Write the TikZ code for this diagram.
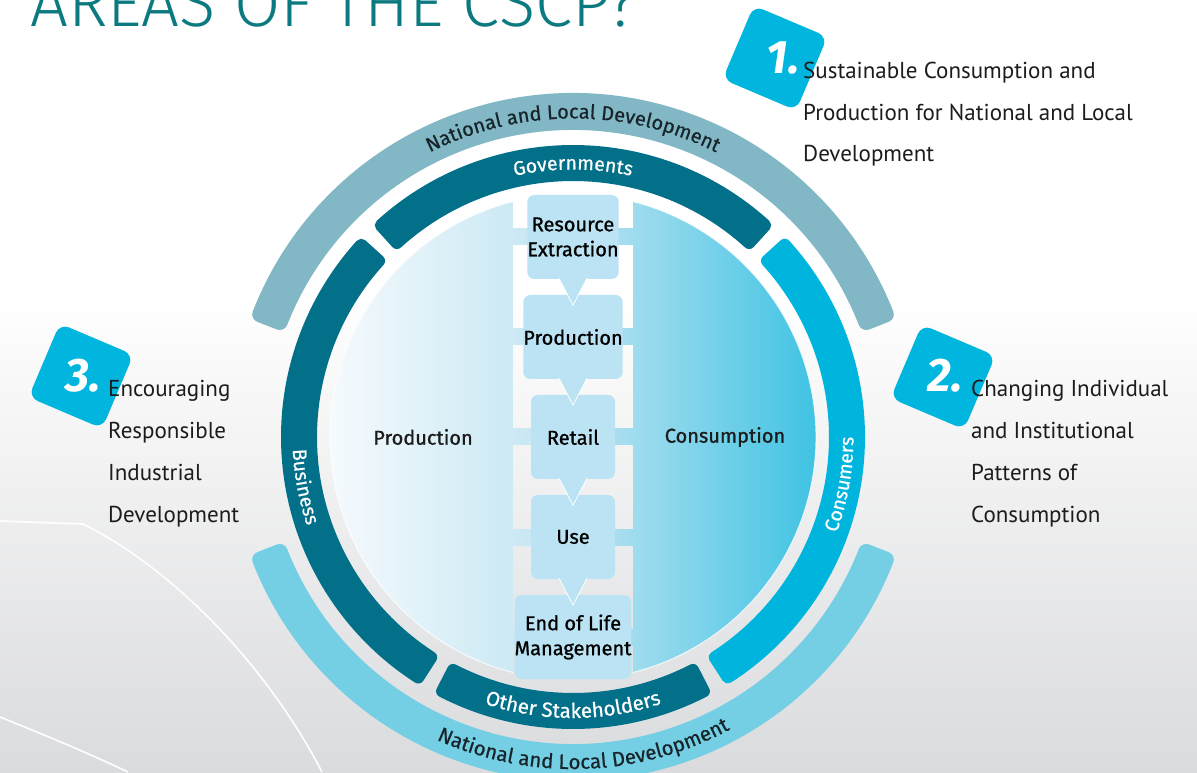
\documentclass[tikz,border=0pt]{standalone}
\usepackage{fontspec}
\setmainfont{PT Sans}
\newfontfamily\labfont{Fira Sans}[UprightFont={* Light}]
\newfontfamily\ringfont{Fira Sans}[FakeBold=0.6]
\newfontfamily\boxfont{Fira Sans}[FakeBold=1]
\newfontfamily\numfont{Fira Sans}
\usetikzlibrary{decorations.text}
\definecolor{ringdark}{HTML}{03708A}
\definecolor{ringcyan}{HTML}{00B5DD}
\definecolor{outtop}{HTML}{82B8C5}
\definecolor{outbot}{HTML}{74CFE4}
\definecolor{badgec}{HTML}{00B6DE}
\definecolor{titlec}{HTML}{0B7A80}
\definecolor{dkA}{HTML}{F5FAFD}
\definecolor{dkB}{HTML}{BFE4F2}
\definecolor{dkC}{HTML}{40C3E3}
\definecolor{boxc}{HTML}{BCE3F3}
\definecolor{bgb}{HTML}{DADBDD}
\definecolor{txtc}{HTML}{1C1C1C}
\definecolor{ringtxt}{HTML}{17252B}

\newcommand\ringseg[6]{% color, a1, a2, Rin, Rout, corner
  \pgfmathsetmacro\rsA{#4+#6}%
  \pgfmathsetmacro\rsB{#5-#6}%
  \pgfmathsetmacro\rsD{#6/((#4+#5)/2)*180/pi}%
  \pgfmathsetmacro\rsS{#2+\rsD}%
  \pgfmathsetmacro\rsE{#3-\rsD}%
  \filldraw[fill=#1,draw=#1,line width=2*#6 pt,line join=round]
    (\rsS:\rsA pt) arc[start angle=\rsS,end angle=\rsE,radius=\rsA pt]
    -- (\rsE:\rsB pt) arc[start angle=\rsE,end angle=\rsS,radius=\rsB pt] -- cycle;}
\newcommand\diskpiece[1]{\begin{scope}\clip #1;
  \shade[left color=dkA,right color=dkC,middle color=dkB] (-243,-243) rectangle (243,243);
  \end{scope}}

\tikzset{
  bodytxt/.style={anchor=base west, inner sep=0pt, text=txtc, font=\fontsize{23}{27}\selectfont},
  stepbox/.style={fill=boxc, rounded corners=7pt, minimum width=84pt, minimum height=84pt,
     inner sep=0pt, align=center, text=black, font=\boxfont\fontsize{20}{25}\selectfont},
  badge/.style={fill=badgec, rounded corners=10pt, minimum width=80pt, minimum height=80pt, rotate=-23, inner sep=0pt},
  badgenum/.style={text=white, font=\numfont\bfseries\itshape\fontsize{47}{47}\selectfont, inner sep=0pt},
  pointer/.style={fill=boxc, draw=white, line width=0.8pt},
  halftxt/.style={text=txtc, font=\boxfont\fontsize{20}{24}\selectfont, inner sep=0pt}
}

\begin{document}
\begin{tikzpicture}[x=1pt,y=1pt]
\clip (0,0) rectangle (1197,772);
\fill[white] (0,0) rectangle (1197,772);
\shade[top color=white,bottom color=bgb] (0,0) rectangle (1197,480);
% background white curves
\draw[white, line width=1.6pt] (0,251) -- (83,248) .. controls (170,205) and (265,110) .. (322,0);
\draw[white, line width=1.6pt] (0,55) .. controls (45,37) and (90,18) .. (128,0);

% title
\node[anchor=base west, inner sep=0pt, text=titlec, font=\labfont\fontsize{67}{67}\selectfont] (title) at (30,745) {AREAS OF THE CSCP?};

\begin{scope}[shift={(573,335)}]
  % outer ring
  \ringseg{outtop}{20}{160}{307}{344}{8}
  \ringseg{outbot}{200}{340}{307}{344}{8}
  % inner ring
  \ringseg{ringdark}{46.5}{133.5}{256}{292}{6}
  \ringseg{ringdark}{136.5}{238.5}{256}{292}{6}
  \ringseg{ringdark}{241.5}{298.5}{256}{292}{6}
  \ringseg{ringcyan}{301.5}{403.5}{256}{292}{6}

  % ring texts
  \path[decorate, decoration={text along path, text align=center,
     text={|\ringfont\fontsize{20}{20}\selectfont\color{ringtxt}|National and Local Development}}]
     (150:318.5) arc[start angle=150, end angle=30, radius=318.5];
  \path[decorate, decoration={text along path, text align=center,
     text={|\ringfont\fontsize{20.5}{20.5}\selectfont\color{ringtxt}|National and Local Development}}]
     (212:332) arc[start angle=212, end angle=332, radius=332];
  \path[decorate, decoration={text along path, text align=center,
     text={|\ringfont\fontsize{19.5}{19.5}\selectfont\color{white}|Governments}}]
     (130:267.5) arc[start angle=130, end angle=50, radius=267.5];
  \path[decorate, decoration={text along path, text align=center,
     text={|\ringfont\fontsize{20.5}{20.5}\selectfont\color{white}|Other Stakeholders}}]
     (240:281) arc[start angle=240, end angle=300, radius=281];
  \path[decorate, decoration={text along path, text align=center,
     text={|\ringfont\fontsize{19.5}{19.5}\selectfont\color{white}|Business}}]
     (160:280.5) arc[start angle=160, end angle=221, radius=280.5];
  \path[decorate, decoration={text along path, text align=center,
     text={|\ringfont\fontsize{19.5}{19.5}\selectfont\color{white}|Consumers}}]
     (-40:280.5) arc[start angle=-40, end angle=20, radius=280.5];

  % gradient disk pieces
  \diskpiece{(104.3:243) arc[start angle=104.3,end angle=255.7,radius=243] -- cycle}
  \diskpiece{(-75.7:243) arc[start angle=-75.7,end angle=75.7,radius=243] -- cycle}
  \foreach \yy in {200,100,0,-100,-200}{
    \diskpiece{(-61,\yy-8) rectangle (61,\yy+8)}
  }
  \draw[white, line width=1pt, opacity=0.8] (104.3:243) arc[start angle=104.3,end angle=255.7,radius=243];
  \draw[white, line width=1pt, opacity=0.8] (-75.7:243) arc[start angle=-75.7,end angle=75.7,radius=243];

  % steps
  \node[stepbox] (s1) at (0,200) {Resource\\Extraction};
  \node[stepbox] (s2) at (0,100) {Production};
  \node[stepbox] (s3) at (0,0) {Retail};
  \node[stepbox] (s4) at (0,-100) {Use};
  \node[stepbox] (s5) at (0,-200) {End of Life\\Management};
  \foreach \b in {s1,s2,s3,s4}{
    \filldraw[pointer] ([shift={(-14,1)}]\b.south) -- ([shift={(0,-26)}]\b.south) -- ([shift={(14,1)}]\b.south);
  }
  \node[halftxt] (prod) at (-150,0) {Production};
  \node[halftxt] (cons) at (152,0) {Consumption};
\end{scope}

% badges
\node[badge] (bd1) at (775,714) {};
\node[badgenum] (n1) at (783,714) {1.};
\node[badge] (bd2) at (943,395) {};
\node[badgenum] (n2) at (945,396) {2.};
\node[badge] (bd3) at (81,396) {};
\node[badgenum] (n3) at (83,396) {3.};

% texts
\node[bodytxt] (t1a) at (803,693) {Sustainable Consumption and};
\node[bodytxt] (t1b) at (803,651.5) {Production for National and Local};
\node[bodytxt] (t1c) at (803,610) {Development};
\node[bodytxt] (t2a) at (971,375) {Changing Individual};
\node[bodytxt] (t2b) at (971,333) {and Institutional};
\node[bodytxt] (t2c) at (971,291) {Patterns of};
\node[bodytxt] (t2d) at (971,250) {Consumption};
\node[bodytxt] (t3a) at (108,375) {Encouraging};
\node[bodytxt] (t3b) at (108,333) {Responsible};
\node[bodytxt] (t3c) at (108,291) {Industrial};
\node[bodytxt] (t3d) at (108,250) {Development};
\end{tikzpicture}
\end{document}
